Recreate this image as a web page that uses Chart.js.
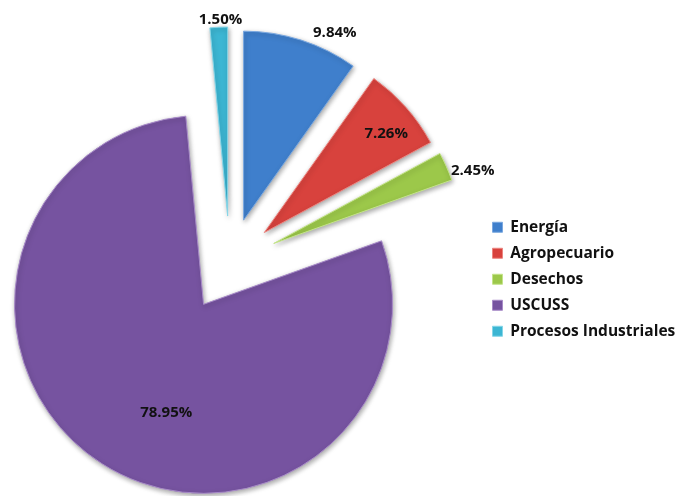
<!DOCTYPE html>
<html>
<head>
<meta charset="utf-8">
<script src="https://cdn.jsdelivr.net/npm/chart.js@4.4.0/dist/chart.umd.min.js"></script>
<style>
  html, body { margin: 0; padding: 0; background: #fff; }
  #wrap { width: 681px; height: 496px; position: relative; }
</style>
</head>
<body>
<div id="wrap"><canvas id="emisionesChart"></canvas></div>
<script>
const categorias = ['Energía', 'Agropecuario', 'Desechos', 'USCUSS', 'Procesos Industriales'];
const porcentajes = [9.84, 7.26, 2.45, 78.95, 1.50];
const colores = ['#3f7fcc', '#d8423d', '#9cc84a', '#7653a0', '#3cb6d3'];
const bordes = ['#7aa8e0', '#ec8580', '#c4e48a', '#a88bc8', '#86d6e8'];
// separación de cada porción (px) y ajuste de las etiquetas
const explosion = [45, 46, 48, 49, 47];
const giroEtiqueta = [6.8, 1.9, 3.3, -9.4, 0.5];
const distEtiqueta = [1.10, 0.83, 1.12, 0.60, 1.04];

// el offset de chart.js deforma las porciones pequeñas, así que se traslada cada arco entero
const desplazar = {
    id: 'desplazar',
    beforeDatasetsDraw(chart) {
        chart.getDatasetMeta(0).data.forEach((arc, i) => {
            if (arc.dibujoOriginal) return;
            arc.dibujoOriginal = arc.draw;
            arc.draw = function (ctx, area) {
                const mid = (this.startAngle + this.endAngle) / 2;
                ctx.save();
                ctx.translate(Math.cos(mid) * explosion[i], Math.sin(mid) * explosion[i]);
                this.dibujoOriginal(ctx, area);
                ctx.restore();
            };
        });
    }
};

const sombra = {
    id: 'sombra',
    beforeDatasetsDraw(chart) {
        const c = chart.ctx;
        c.save();
        c.shadowColor = 'rgba(0,0,0,0.35)';
        c.shadowBlur = 5;
        c.shadowOffsetX = 1;
        c.shadowOffsetY = 2;
    },
    afterDatasetsDraw(chart) {
        chart.ctx.restore();
    }
};

const etiquetas = {
    id: 'etiquetas',
    afterDatasetsDraw(chart) {
        const ctx = chart.ctx;
        const meta = chart.getDatasetMeta(0);
        ctx.save();
        ctx.font = 'bold 15px "Open Sans"';
        ctx.fillStyle = '#111';
        ctx.textAlign = 'center';
        ctx.textBaseline = 'middle';
        meta.data.forEach((arc, i) => {
            const p = arc.getProps(['x', 'y', 'startAngle', 'endAngle', 'outerRadius'], true);
            const ang = (p.startAngle + p.endAngle) / 2 + giroEtiqueta[i] * Math.PI / 180;
            const r = explosion[i] + p.outerRadius * distEtiqueta[i];
            ctx.fillText(porcentajes[i].toFixed(2) + '%', p.x + Math.cos(ang) * r, p.y + Math.sin(ang) * r);
        });
        ctx.restore();
    }
};

// coloca la leyenda donde está en el original
const moverLeyenda = {
    id: 'moverLeyenda',
    afterLayout(chart) {
        const lg = chart.legend;
        const w = lg.width;
        lg.left = 482;
        lg.right = lg.left + w;
        lg.top = 209;
        lg.bottom = 496;
    }
};

new Chart(document.getElementById('emisionesChart'), {
    type: 'pie',
    data: {
        labels: categorias,
        datasets: [{
            data: porcentajes,
            backgroundColor: colores,
            borderColor: bordes,
            borderWidth: 1,
            radius: 189
        }]
    },
    options: {
        responsive: true,
        maintainAspectRatio: false,
        animation: false,
        layout: { padding: { top: 30, bottom: 0, left: 0, right: 18 } },
        plugins: {
            legend: {
                position: 'right',
                align: 'start',
                labels: {
                    boxWidth: 10,
                    boxHeight: 10,
                    padding: 10.5,
                    color: '#111',
                    font: { family: 'Open Sans', size: 15.5, weight: 'bold' }
                }
            },
            tooltip: { enabled: false }
        }
    },
    plugins: [desplazar, sombra, etiquetas, moverLeyenda]
});
</script>
</body>
</html>
